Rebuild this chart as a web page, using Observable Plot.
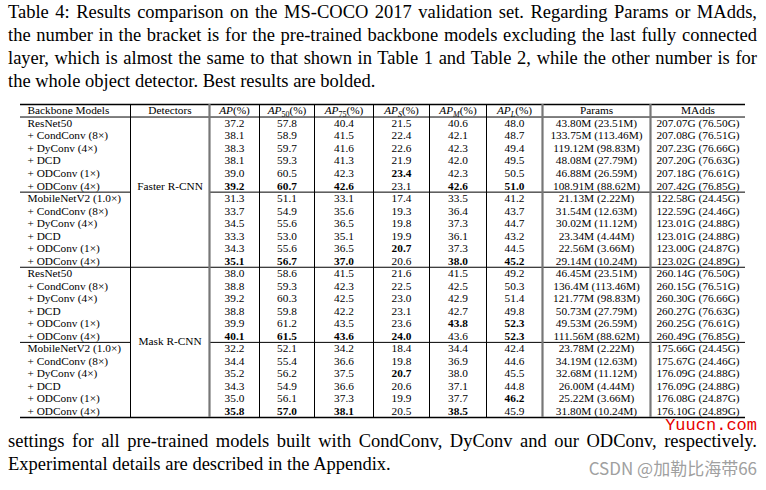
<!DOCTYPE html>
<html><head><meta charset="utf-8">
<script src="https://cdn.jsdelivr.net/npm/d3@7"></script>
<script src="https://cdn.jsdelivr.net/npm/@observablehq/plot@0.6"></script>
<style>
html,body{margin:0;padding:0;background:#fff;}
#page{position:relative;width:766px;height:490px;overflow:hidden;font-family:"Liberation Serif","Times New Roman",serif;color:#000;}
.para{position:absolute;left:8px;width:749px;font-size:18.5px;line-height:23px;}
.para div{white-space:nowrap;}
#chart{position:absolute;left:0;top:96px;}
#wm1{position:absolute;right:9px;top:416px;font-family:"Liberation Mono",monospace;font-size:17px;color:#e60000;}
#wm2{position:absolute;right:9px;top:455px;font-family:"Noto Sans CJK SC",sans-serif;font-size:17px;color:#a0a0a0;}
</style></head>
<body>
<div id="page">
  <div class="para" id="title" style="top:1px">
    <div class="j"><span>Table 4: Results comparison on the MS-COCO 2017 validation set. Regarding Params or MAdds,</span></div>
    <div class="j"><span>the number in the bracket is for the pre-trained backbone models excluding the last fully connected</span></div>
    <div class="j"><span>layer, which is almost the same to that shown in Table 1 and Table 2, while the other number is for</span></div>
    <div><span>the whole object detector. Best results are bolded.</span></div>
  </div>
  <div id="chart"></div>
  <div class="para" id="caption" style="top:430px">
    <div class="j"><span>settings for all pre-trained models built with CondConv, DyConv and our ODConv, respectively.</span></div>
    <div><span>Experimental details are described in the Appendix.</span></div>
  </div>
  <div id="wm1">Yuucn.com</div>
  <div id="wm2">CSDN @加勒比海带66</div>
</div>
<script>
// ---------- data ----------
const headerMain = ["Backbone Models","Detectors","AP","AP","AP","AP","AP","AP","Params","MAdds"];
const headerSub  = ["","","","50","75","S","M","L","",""];
const headerTail = ["","","(%)","(%)","(%)","(%)","(%)","(%)","",""];

const backbones = [
  "ResNet50","+ CondConv (8×)","+ DyConv (4×)","+ DCD","+ ODConv (1×)","+ ODConv (4×)",
  "MobileNetV2 (1.0×)","+ CondConv (8×)","+ DyConv (4×)","+ DCD","+ ODConv (1×)","+ ODConv (4×)",
  "ResNet50","+ CondConv (8×)","+ DyConv (4×)","+ DCD","+ ODConv (1×)","+ ODConv (4×)",
  "MobileNetV2 (1.0×)","+ CondConv (8×)","+ DyConv (4×)","+ DCD","+ ODConv (1×)","+ ODConv (4×)"
];
const detectorNames = ["Faster R-CNN","Mask R-CNN"];
const detectorRows = [5, 17.45];

const ap   = [37.2,38.1,38.3,38.1,39.0,39.2, 31.3,33.7,34.5,33.3,34.3,35.1, 38.0,38.8,39.2,38.8,39.9,40.1, 32.2,34.4,35.2,34.3,35.0,35.8];
const ap50 = [57.8,58.9,59.7,59.3,60.5,60.7, 51.1,54.9,55.6,53.0,55.6,56.7, 58.6,59.3,60.3,59.8,61.2,61.5, 52.1,55.4,56.2,54.9,56.1,57.0];
const ap75 = [40.4,41.5,41.6,41.3,42.3,42.6, 33.1,35.6,36.5,35.1,36.5,37.0, 41.5,42.3,42.5,42.2,43.5,43.6, 34.2,36.6,37.5,36.6,37.3,38.1];
const apS  = [21.5,22.4,22.6,21.9,23.4,23.1, 17.4,19.3,19.8,19.9,20.7,20.6, 21.6,22.5,23.0,23.1,23.6,24.0, 18.4,19.8,20.7,20.6,19.9,20.5];
const apM  = [40.6,42.1,42.3,42.0,42.3,42.6, 33.5,36.4,37.3,36.1,37.3,38.0, 41.5,42.5,42.9,42.7,43.8,43.6, 34.4,36.9,38.0,37.1,37.7,38.5];
const apL  = [48.0,48.7,49.4,49.5,50.5,51.0, 41.2,43.7,44.7,43.2,44.5,45.2, 49.2,50.3,51.4,49.8,52.3,52.3, 42.4,44.6,45.5,44.8,46.2,45.9];
const params = [
  "43.80M (23.51M)","133.75M (113.46M)","119.12M (98.83M)","48.08M (27.79M)","46.88M (26.59M)","108.91M (88.62M)",
  "21.13M (2.22M)","31.54M (12.63M)","30.02M (11.12M)","23.34M (4.44M)","22.56M (3.66M)","29.14M (10.24M)",
  "46.45M (23.51M)","136.4M (113.46M)","121.77M (98.83M)","50.73M (27.79M)","49.53M (26.59M)","111.56M (88.62M)",
  "23.78M (2.22M)","34.19M (12.63M)","32.68M (11.12M)","26.00M (4.44M)","25.22M (3.66M)","31.80M (10.24M)"
];
const madds = [
  "207.07G (76.50G)","207.08G (76.51G)","207.23G (76.66G)","207.20G (76.63G)","207.18G (76.61G)","207.42G (76.85G)",
  "122.58G (24.45G)","122.59G (24.46G)","123.01G (24.88G)","123.01G (24.88G)","123.00G (24.87G)","123.02G (24.89G)",
  "260.14G (76.50G)","260.15G (76.51G)","260.30G (76.66G)","260.27G (76.63G)","260.25G (76.61G)","260.49G (76.85G)",
  "175.66G (24.45G)","175.67G (24.46G)","176.09G (24.88G)","176.09G (24.88G)","176.08G (24.87G)","176.10G (24.89G)"
];
// rows (0-based) whose value is bolded, per metric column
const boldAP   = [5,11,17,23];
const boldAP50 = [5,11,17,23];
const boldAP75 = [5,11,17,23];
const boldAPS  = [4,10,17,20];
const boldAPM  = [5,11,16,23];
const boldAPL  = [5,11,16,17,22];

// ---------- layout ----------
const colEdges = [20,130,209,259,314,373,429,486,542,650,745];
const centers = colEdges.slice(0,-1).map((e,i)=>(e+colEdges[i+1])/2);
const textLeft = 27;

const metricCols = [[ap,boldAP],[ap50,boldAP50],[ap75,boldAP75],[apS,boldAPS],[apM,boldAPM],[apL,boldAPL]];
const cells = [];
metricCols.forEach(([vals,bold],k)=>{
  vals.forEach((v,r)=>cells.push({col:k+2,row:r,text:v.toFixed(1),bold:bold.includes(r)}));
});
params.forEach((v,r)=>cells.push({col:8,row:r,text:v,bold:false}));
madds.forEach((v,r)=>cells.push({col:9,row:r,text:v,bold:false}));

const headers = headerMain.map((m,i)=>({col:i,text:m+headerSub[i]+headerTail[i],main:m,sub:headerSub[i],tail:headerTail[i]}));

const ff = "Liberation Serif";
const fs = 11.3;
const yRow = d => d.row + 1.5;

const full = [0,1,13,25];
const partial = [7,19];
const hSegs = [];
partial.forEach(y=>{hSegs.push({y,x1:colEdges[0],x2:colEdges[1]});hSegs.push({y,x1:colEdges[2],x2:colEdges[10]});});
const singleV = [colEdges[1],colEdges[3],colEdges[4],colEdges[5],colEdges[6],colEdges[7]];
const doubleV = [colEdges[2],colEdges[8],colEdges[9]];

const chart = Plot.plot({
  width:766, height:328,
  margin:0, marginTop:0, marginBottom:0, marginLeft:0, marginRight:0,
  x:{domain:[0,766], range:[0,766], axis:null},
  y:{domain:[0,25], range:[8,321], axis:null},
  style:{background:"white"},
  marks:[
    Plot.ruleY(full, {y:d=>d, x1:colEdges[0], x2:colEdges[10], stroke:"#000", strokeWidth:d=>(d===0||d===25)?1.4:1}),
    Plot.ruleY(hSegs, {y:"y", x1:"x1", x2:"x2", stroke:"#000", strokeWidth:1}),
    Plot.ruleX(singleV, {x:d=>d, y1:0, y2:25, stroke:"#000", strokeWidth:1}),
    Plot.ruleX(doubleV, {x:d=>d, y1:0, y2:25, stroke:"#777", strokeWidth:2.2}),
    Plot.text(headers.filter(h=>h.col===0), {x:textLeft, y:0.5, text:"text", textAnchor:"start", fontFamily:ff, fontSize:fs}),
    Plot.text(headers.filter(h=>h.col>0), {x:d=>centers[d.col], y:0.5, text:"text", textAnchor:"middle", fontFamily:ff, fontSize:fs}),
    Plot.text(backbones, {x:textLeft, y:(d,i)=>i+1.5, text:d=>d, textAnchor:"start", fontFamily:ff, fontSize:fs}),
    Plot.text(detectorNames, {x:centers[1], y:(d,i)=>detectorRows[i]+1.5, text:d=>d, textAnchor:"middle", fontFamily:ff, fontSize:fs}),
    Plot.text(cells.filter(c=>!c.bold), {x:d=>centers[d.col], y:yRow, text:"text", textAnchor:"middle", fontFamily:ff, fontSize:fs}),
    Plot.text(cells.filter(c=>c.bold), {x:d=>centers[d.col], y:yRow, text:"text", textAnchor:"middle", fontFamily:ff, fontSize:fs, fontWeight:"bold"})
  ]
});
document.getElementById("chart").appendChild(chart);

// subscripts in header labels
const NS = "http://www.w3.org/2000/svg";
chart.querySelectorAll("text").forEach(t=>{
  const h = headers.find(h=>h.sub && h.text===t.textContent);
  if(!h) return;
  t.textContent = "";
  const a = document.createElementNS(NS,"tspan"); a.setAttribute("font-style","italic"); a.textContent = h.main; t.appendChild(a);
  const b = document.createElementNS(NS,"tspan"); b.setAttribute("font-size","8"); b.setAttribute("dy","2.5");
  if(/[A-Z]/.test(h.sub)) b.setAttribute("font-style","italic");
  b.textContent = h.sub; t.appendChild(b);
  const c = document.createElementNS(NS,"tspan"); c.setAttribute("dy","-2.5"); c.textContent = h.tail; t.appendChild(c);
});
chart.querySelectorAll("text").forEach(t=>{
  if(t.textContent==="AP(%)"){
    t.textContent="";
    const a=document.createElementNS(NS,"tspan");a.setAttribute("font-style","italic");a.textContent="AP";t.appendChild(a);
    const c=document.createElementNS(NS,"tspan");c.textContent="(%)";t.appendChild(c);
  }
});

// justify paragraph lines
function justify(){
  document.querySelectorAll(".j").forEach(el=>{
    const span = el.firstElementChild;
    span.style.wordSpacing = "0px";
    const w = span.getBoundingClientRect().width;
    const n = (span.textContent.match(/ /g)||[]).length;
    span.style.wordSpacing = ((749 - w)/n) + "px";
  });
}
justify();
if (document.fonts && document.fonts.ready) document.fonts.ready.then(justify);
</script>
</body></html>
